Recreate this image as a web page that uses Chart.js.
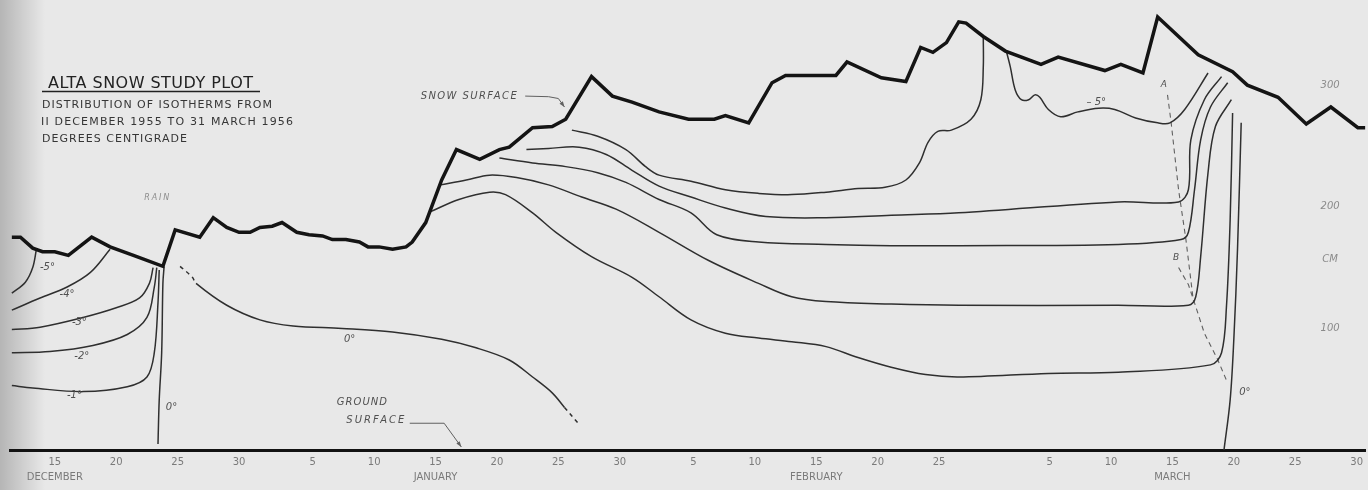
<!DOCTYPE html>
<html>
<head>
<meta charset="utf-8">
<title>Alta snow study plot</title>
<script src="https://cdn.jsdelivr.net/npm/chart.js@4.4.1/dist/chart.umd.min.js"></script>
<style>
  html, body { margin: 0; padding: 0; background: #e8e8e8; overflow: hidden; }
  canvas { display: block; }
</style>
</head>
<body>
<canvas id="plot" width="1368" height="490"></canvas>
<script>
// x = days after 11 December 1955, y = height above the ground (cm)
const tickDays = [4, 9, 14, 19, 25, 30, 35, 40, 45, 50, 56, 61, 66, 71, 76, 85, 90, 95, 100, 105, 110];
const tickLabels = [["15", "DECEMBER"], "20", "25", "30", "5", "10", ["15", "JANUARY"], "20", "25", "30",
  "5", "10", ["15", "FEBRUARY"], "20", "25", "5", "10", ["15", "MARCH"], "20", "25", "30"];
const depthTicks = [100, 200, 300];
const depthUnitAt = 157;

const snowSurface = [[0.5,175],[1.2,175],[2.2,166],[3.0,163],[4.0,163],[5.1,160],[7.0,175],[8.5,167],
  [10.4,160],[12.8,151],[13.8,181],[15.8,175],[16.9,191],[18.0,183],[19.0,179],[19.9,179],[20.7,183],
  [21.7,184],[22.5,187],[23.7,179],[24.7,177],[25.8,176],[26.6,173],[27.7,173],[28.8,171],[29.5,167],
  [30.4,167],[31.5,165],[32.6,167],[33.1,171],[34.2,187],[35.5,222],[36.7,247],[38.6,239],[40.2,247],
  [41.0,249],[42.9,265],[44.5,266],[45.6,272],[47.7,307],[49.4,291],[51.0,286],[53.2,278],[55.6,272],
  [57.7,272],[58.6,275],[60.5,269],[62.4,302],[63.5,308],[67.6,308],[68.5,319],[71.3,306],[73.3,303],
  [74.5,331],[75.5,327],[76.6,335],[77.6,352],[78.2,351],[79.6,340],[81.4,328],[84.3,317],[85.7,323],
  [89.5,312],[90.8,317],[92.6,310],[93.8,356],[97.1,325],[99.9,311],[101.1,300],[103.6,290],[105.9,268],
  [107.9,282],[110.1,265],[110.7,265]];

// December isotherms
const isoMinus5Dec = [[0.5,129],[1.6,138],[2.2,150],[2.5,165]];
const isoMinus4Dec = [[0.5,115],[2.8,125],[5.0,134],[6.9,146],[8.5,165]];
const isoMinus3Dec = [[0.5,99],[2.8,101],[6.3,109],[9.0,117],[10.9,125],[11.7,137],[12.0,150]];
const isoMinus2Dec = [[0.5,80],[3.6,81],[7.1,86],[9.9,95],[11.5,109],[12.1,134],[12.3,150]];
const isoMinus1Dec = [[0.5,53],[2.2,51],[6.3,48],[9.9,52],[11.5,60],[12.1,80],[12.4,121],[12.5,148]];
const iso0Dec = [[12.9,151],[12.8,137],[12.7,80],[12.5,41],[12.4,5]];
const iso0Jan = [[14.2,151],[15.2,142],[15.5,137],[18.0,119],[20.7,107],[23.4,102],[27.4,100],[31.5,97],
  [35.5,91],[38.3,84],[41.0,74],[42.9,60],[44.5,47],[45.5,35],[46.7,21]];

// January - March isotherms, top to bottom
const isoLine1 = [[46.1,263],[48.2,258],[50.5,247],[52.1,233],[53.2,226],[55.8,221],[58.6,214],[61.3,211],
  [64.0,210],[66.8,212],[69.4,215],[71.6,216],[73.3,222],[74.4,236],[75.1,253],[75.9,262],[77.0,263],
  [78.6,272],[79.4,288],[79.6,315],[79.6,340]];
const isoLine2 = [[42.4,247],[44.2,248],[46.7,249],[48.9,243],[51.0,230],[53.2,217],[55.8,208],[58.6,199],
  [61.9,192],[66.8,191],[72.1,193],[77.6,195],[90.6,204],[95.5,204],[96.3,214],[96.5,255],[97.6,288],[99.0,307]];
const isoLine3 = [[40.2,240],[42.9,236],[45.6,233],[48.2,228],[50.5,220],[53.2,206],[55.8,195],[57.9,177],
  [61.3,171],[66.8,169],[72.1,168],[77.6,168],[90.6,169],[95.7,173],[96.3,179],[96.8,214],[97.3,255],
  [98.1,282],[99.5,302]];
const isoLine4 = [[35.4,218],[37.5,222],[39.4,226],[41.6,224],[44.2,218],[46.9,208],[49.7,198],[53.2,179],
  [57.2,156],[61.3,137],[64.0,126],[66.8,122],[72.1,120],[77.6,119],[90.6,119],[96.3,119],[96.9,126],
  [97.3,159],[97.9,228],[98.5,266],[99.8,288]];
const isoLine5 = [[34.6,196],[36.9,206],[39.4,212],[40.7,210],[42.9,195],[44.8,179],[47.7,159],[51.0,142],
  [53.2,126],[55.8,107],[58.6,96],[61.3,92],[64.0,89],[66.8,85],[69.4,76],[72.1,68],[74.9,62],[77.6,60],
  [84.9,63],[90.6,64],[98.1,70],[99.0,80],[99.4,118],[99.7,189],[99.9,277]];
const isoMinus5Mar = [[81.5,327],[81.8,315],[82.2,296],[82.7,288],[83.3,288],[83.8,292],[84.2,290],[84.9,280],
  [85.9,274],[87.3,278],[89.0,281],[90.3,280],[92.0,273],[93.8,269],[94.8,269],[96.0,280],[97.9,310]];
const iso0Mar = [[99.2,0],[99.7,41],[100.0,91],[100.3,165],[100.6,269]];
const traceA = [[94.6,292],[94.9,269],[95.5,214],[96.1,173],[96.7,123]];
const traceB = [[95.5,150],[96.3,136],[96.8,121],[97.6,96],[98.7,74],[99.5,55]];

Chart.defaults.font.family = '"DejaVu Sans", sans-serif';

const ink = '#2f2f2f';
const toXY = pts => pts.map(([x, y]) => ({ x, y }));
function curve(points, extra) {
  return Object.assign({
    data: toXY(points), showLine: true, pointRadius: 0, borderColor: ink,
    borderWidth: 1.5, tension: 0.35, fill: false
  }, extra || {});
}

const notes = [
  { text: 'RAIN', at: [12.3, 207], width: 25, size: 8, color: '#8d8d8d' },
  { text: '-5°', at: [3.4, 150] },
  { text: '-4°', at: [5.0, 128] },
  { text: '-3°', at: [6.0, 105] },
  { text: '-2°', at: [6.2, 77] },
  { text: '-1°', at: [5.6, 45] },
  { text: '0°', at: [13.5, 35] },
  { text: '0°', at: [28.0, 91] },
  { text: '– 5°', at: [88.8, 286] },
  { text: 'A', at: [94.3, 300], size: 9 },
  { text: 'B', at: [95.3, 158], size: 9 },
  { text: '0°', at: [100.9, 47] },
  { text: 'SNOW SURFACE', at: [37.7, 291], width: 96, size: 10 },
  { text: 'GROUND', at: [29.0, 39], width: 50, size: 10 },
  { text: 'SURFACE', at: [30.1, 24], width: 58, size: 10 }
];
const leaders = [
  [[42.3, 291], [44.2, 290.5], [45.0, 289], [45.5, 282]],
  [[32.9, 22], [35.7, 22], [37.1, 2.5]]
];

function spacedText(ctx, text, x, y, width, font, align) {
  ctx.font = font;
  ctx.letterSpacing = '0px';
  const w = ctx.measureText(text).width;
  let sp = 0;
  if (width && text.length > 1) sp = (width - w) / (text.length - 1);
  ctx.letterSpacing = sp + 'px';
  const total = w + sp * (text.length - 1);
  const left = align === 'center' ? x - total / 2 : x;
  ctx.textAlign = 'left';
  ctx.fillText(text, left, y);
  ctx.letterSpacing = '0px';
}

const paper = {
  id: 'paper',
  beforeDraw(chart) {
    const { ctx, width, height } = chart;
    ctx.save();
    ctx.fillStyle = '#e8e8e8';
    ctx.fillRect(0, 0, width, height);
    const g = ctx.createLinearGradient(0, 0, 45, 0);
    g.addColorStop(0, 'rgba(0,0,0,0.22)');
    g.addColorStop(1, 'rgba(0,0,0,0)');
    ctx.fillStyle = g;
    ctx.fillRect(0, 0, 45, height);
    ctx.restore();
  },
  afterDraw(chart) {
    const { ctx } = chart;
    const xs = chart.scales.x, ys = chart.scales.y;
    const px = ([d, c]) => [xs.getPixelForValue(d), ys.getPixelForValue(c)];
    ctx.save();

    // title block
    ctx.fillStyle = '#222';
    ctx.textBaseline = 'alphabetic';
    spacedText(ctx, 'ALTA SNOW STUDY PLOT', 48, 88, 205, '16px "DejaVu Sans"', 'left');
    ctx.strokeStyle = '#222';
    ctx.lineWidth = 1.6;
    ctx.beginPath(); ctx.moveTo(42, 91.5); ctx.lineTo(260, 91.5); ctx.stroke();
    ctx.fillStyle = '#363636';
    spacedText(ctx, 'DISTRIBUTION OF ISOTHERMS FROM', 42, 108, 230, '11px "DejaVu Sans"', 'left');
    spacedText(ctx, 'II DECEMBER 1955 TO 31 MARCH 1956', 41, 125, 252, '11px "DejaVu Sans"', 'left');
    spacedText(ctx, 'DEGREES CENTIGRADE', 42, 142, 145, '11px "DejaVu Sans"', 'left');

    // hand lettered notes
    ctx.textBaseline = 'middle';
    notes.forEach(n => {
      const [x, y] = px(n.at);
      ctx.fillStyle = n.color || '#505050';
      spacedText(ctx, n.text, x, y, n.width, 'italic ' + (n.size || 10) + 'px "DejaVu Sans"', 'center');
    });

    // leader lines with arrow heads
    ctx.strokeStyle = '#606060';
    ctx.fillStyle = '#606060';
    ctx.lineWidth = 1;
    leaders.forEach(l => {
      const pts = l.map(px);
      ctx.beginPath();
      ctx.moveTo(pts[0][0], pts[0][1]);
      pts.slice(1).forEach(p => ctx.lineTo(p[0], p[1]));
      ctx.stroke();
      const [a, b] = pts.slice(-2);
      const ang = Math.atan2(b[1] - a[1], b[0] - a[0]);
      ctx.beginPath();
      ctx.moveTo(b[0], b[1]);
      ctx.lineTo(b[0] - 6 * Math.cos(ang - 0.35), b[1] - 6 * Math.sin(ang - 0.35));
      ctx.lineTo(b[0] - 6 * Math.cos(ang + 0.35), b[1] - 6 * Math.sin(ang + 0.35));
      ctx.closePath();
      ctx.fill();
    });
    ctx.restore();
  }
};

new Chart(document.getElementById('plot'), {
  type: 'scatter',
  data: {
    datasets: [
      curve(snowSurface, { borderColor: '#141414', borderWidth: 3.5, tension: 0 }),
      curve(isoMinus5Dec), curve(isoMinus4Dec), curve(isoMinus3Dec), curve(isoMinus2Dec),
      curve(isoMinus1Dec), curve(iso0Dec),
      curve(iso0Jan, {
        segment: { borderDash: c => (c.p0DataIndex < 2 || c.p0DataIndex >= 13) ? [4, 4] : undefined }
      }),
      curve(isoLine1), curve(isoLine2), curve(isoLine3), curve(isoLine4), curve(isoLine5),
      curve(isoMinus5Mar), curve(iso0Mar),
      curve(traceA, { borderColor: '#606060', borderWidth: 1.1, borderDash: [5, 4], tension: 0 }),
      curve(traceB, { borderColor: '#606060', borderWidth: 1.1, borderDash: [5, 4], tension: 0 })
    ]
  },
  options: {
    responsive: false,
    animation: false,
    layout: { padding: { left: 10, right: 0, top: 0, bottom: 0 } },
    plugins: { legend: { display: false }, tooltip: { enabled: false } },
    scales: {
      x: {
        type: 'linear',
        min: 0.35,
        max: 110.73,
        grid: { display: false, drawTicks: false },
        border: { display: true, color: '#121212', width: 3 },
        afterBuildTicks: s => { s.ticks = tickDays.map(v => ({ value: v })); },
        afterFit: s => { s.height = 40; },
        ticks: {
          autoSkip: false,
          maxRotation: 0,
          padding: 5,
          color: '#7a7a7a',
          font: { size: 10, lineHeight: 1.5 },
          callback: (v, i) => tickLabels[i]
        }
      },
      y: {
        type: 'linear',
        position: 'right',
        min: 0,
        max: 370,
        grid: { display: false, drawTicks: false },
        border: { display: false },
        afterBuildTicks: s => {
          s.ticks = depthTicks.concat([depthUnitAt]).map(v => ({ value: v }));
        },
        afterFit: s => { s.width = 0; },
        ticks: {
          mirror: true,
          padding: -26,
          crossAlign: 'center',
          color: '#8a8a8a',
          font: { size: 10, style: 'italic' },
          callback: v => v === depthUnitAt ? 'CM' : String(v)
        }
      }
    }
  },
  plugins: [paper]
});
</script>
</body>
</html>
